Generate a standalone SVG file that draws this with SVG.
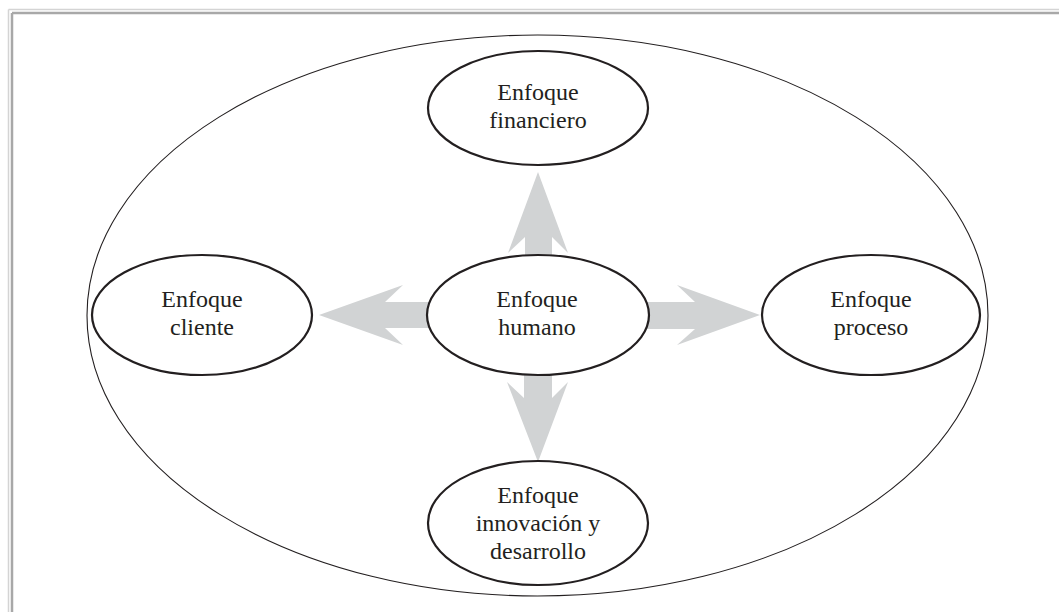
<svg xmlns="http://www.w3.org/2000/svg" width="1059" height="612" viewBox="0 0 1059 612">
<style>
.node{fill:#fff;stroke:#231f20;stroke-width:2.2}
.outer{fill:none;stroke:#231f20;stroke-width:1.1}
.arrow{fill:#d1d3d4}
text{font-family:"Liberation Serif","Times New Roman",serif;font-size:24px;fill:#231f20;text-anchor:middle}
</style>
<rect width="1059" height="612" fill="#fff"/>
<g id="frame">
<line x1="8.5" y1="9.5" x2="8.5" y2="612" stroke="#d4d4d4" stroke-width="1.5"/>
<line x1="8.5" y1="9.5" x2="1059" y2="9.5" stroke="#d4d4d4" stroke-width="1.5"/>
<line x1="12" y1="13" x2="12" y2="612" stroke="#a8a8a8" stroke-width="2.5"/>
<line x1="12" y1="13" x2="1059" y2="13" stroke="#a8a8a8" stroke-width="2.5"/>
</g>
<g id="outer-ellipse"><ellipse class="outer" cx="537.5" cy="315.5" rx="450.5" ry="280.5"/></g>
<g id="connectors">
<polygon class="arrow" points="538,172 568,253 552,237 552,262 525,262 525,237 508,253"/>
<polygon class="arrow" points="538,462 568,382 552,398 552,370 524,370 524,398 507,382"/>
<polygon class="arrow" points="319,315 403,285 385,302 432,302 432,328 385,328 403,345"/>
<polygon class="arrow" points="760,315 677,285 695,302 645,302 645,329 695,329 677,345"/>
</g>
<g id="node-financiero">
<ellipse class="node" cx="538" cy="108" rx="110" ry="57"/>
<text x="538" y="100">Enfoque</text>
<text x="538" y="128">financiero</text>
</g>
<g id="node-humano">
<ellipse class="node" cx="538" cy="315" rx="111" ry="60"/>
<text x="537" y="307">Enfoque</text>
<text x="537" y="335">humano</text>
</g>
<g id="node-cliente">
<ellipse class="node" cx="202" cy="315" rx="110" ry="60"/>
<text x="202" y="307">Enfoque</text>
<text x="202" y="335">cliente</text>
</g>
<g id="node-proceso">
<ellipse class="node" cx="871" cy="315" rx="109" ry="60"/>
<text x="871" y="307">Enfoque</text>
<text x="871" y="335">proceso</text>
</g>
<g id="node-innovacion">
<ellipse class="node" cx="538" cy="523" rx="110" ry="62"/>
<text x="538" y="503">Enfoque</text>
<text x="538" y="531">innovación y</text>
<text x="538" y="559">desarrollo</text>
</g>
</svg>
